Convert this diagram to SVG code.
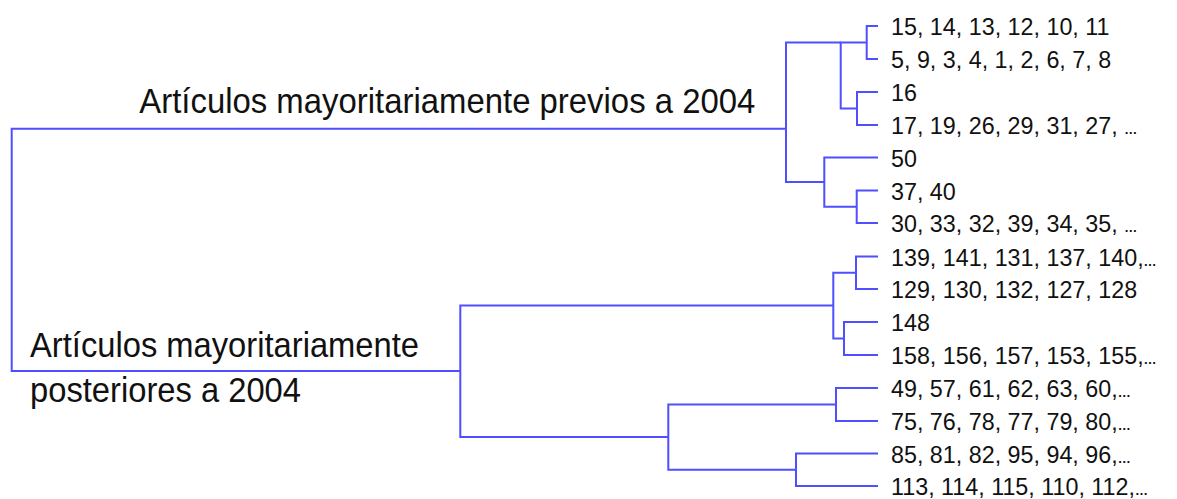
<svg xmlns="http://www.w3.org/2000/svg" width="1177" height="499" viewBox="0 0 1177 499">
<style>
  .edge { fill: none; stroke: #4f4fff; stroke-width: 2; stroke-linejoin: miter; }
  .leaf { font-family: "Liberation Sans", Arial, sans-serif; font-size: 23.3px; fill: #111; }
  .dots { font-size: 13px; font-weight: bold; }
  .big { font-family: "Liberation Sans", Arial, sans-serif; font-size: 34.5px; fill: #111; }
</style>
<rect width="1177" height="499" fill="#ffffff"/>
<g id="connectors">
  <path class="edge" d="M786 128.8 H11.7 V371 H460.3"/>
  <path class="edge" d="M840.7 42.5 H786 V182.1 H824.3"/>
  <path class="edge" d="M866.7 42.5 H840.7 V108.5 H857"/>
  <path class="edge" d="M878 26 H866.7 V59 H878"/>
  <path class="edge" d="M878 92 H857 V125 H878"/>
  <path class="edge" d="M878 157.5 H824.3 V206.75 H856.7"/>
  <path class="edge" d="M878 190.5 H856.7 V223 H878"/>
  <path class="edge" d="M833.3 305.6 H460.3 V437.1 H668.3"/>
  <path class="edge" d="M856 272.75 H833.3 V338.5 H844"/>
  <path class="edge" d="M878 256.5 H856 V289 H878"/>
  <path class="edge" d="M878 322 H844 V355 H878"/>
  <path class="edge" d="M836 404.5 H668.3 V469.75 H796"/>
  <path class="edge" d="M878 388 H836 V421 H878"/>
  <path class="edge" d="M878 453.5 H796 V486 H878"/>
</g>
<g id="cluster-previos"><text class="big" x="139.3" y="113.3" textLength="616" lengthAdjust="spacingAndGlyphs">Artículos mayoritariamente previos a 2004</text></g>
<g id="cluster-posteriores">
  <text class="big" x="30" y="356.7" textLength="389" lengthAdjust="spacingAndGlyphs">Artículos mayoritariamente</text>
  <text class="big" x="30" y="401.7" textLength="271" lengthAdjust="spacingAndGlyphs">posteriores a 2004</text>
</g>
<g id="leaf1"><text class="leaf" x="891" y="35">15, 14, 13, 12, 10, 11</text></g>
<g id="leaf2"><text class="leaf" x="891" y="68">5, 9, 3, 4, 1, 2, 6, 7, 8</text></g>
<g id="leaf3"><text class="leaf" x="891" y="101">16</text></g>
<g id="leaf4"><text class="leaf" x="891" y="134">17, 19, 26, 29, 31, 27, <tspan class="dots">…</tspan></text></g>
<g id="leaf5"><text class="leaf" x="891" y="166.5">50</text></g>
<g id="leaf6"><text class="leaf" x="891" y="199.5">37, 40</text></g>
<g id="leaf7"><text class="leaf" x="891" y="232">30, 33, 32, 39, 34, 35, <tspan class="dots">…</tspan></text></g>
<g id="leaf8"><text class="leaf" x="891" y="265.5">139, 141, 131, 137, 140,<tspan class="dots">…</tspan></text></g>
<g id="leaf9"><text class="leaf" x="891" y="298">129, 130, 132, 127, 128</text></g>
<g id="leaf10"><text class="leaf" x="891" y="331">148</text></g>
<g id="leaf11"><text class="leaf" x="891" y="364">158, 156, 157, 153, 155,<tspan class="dots">…</tspan></text></g>
<g id="leaf12"><text class="leaf" x="891" y="397">49, 57, 61, 62, 63, 60,<tspan class="dots">…</tspan></text></g>
<g id="leaf13"><text class="leaf" x="891" y="430">75, 76, 78, 77, 79, 80,<tspan class="dots">…</tspan></text></g>
<g id="leaf14"><text class="leaf" x="891" y="462.5">85, 81, 82, 95, 94, 96,<tspan class="dots">…</tspan></text></g>
<g id="leaf15"><text class="leaf" x="891" y="495">113, 114, 115, 110, 112,<tspan class="dots">…</tspan></text></g>
</svg>
